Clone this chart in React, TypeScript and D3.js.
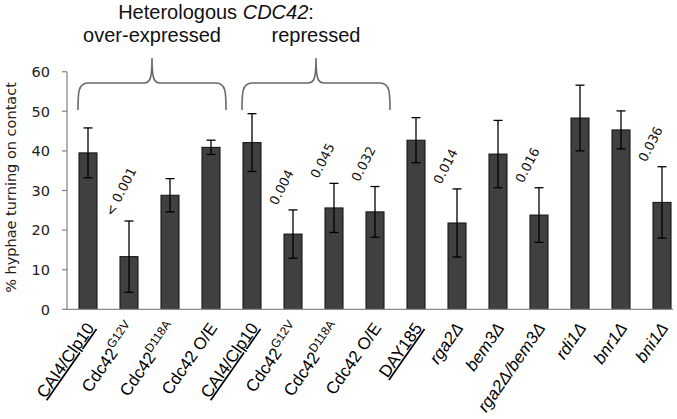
import React from "react";
import * as d3 from "d3";

const categories = [
  "CAI4/Clp10", "Cdc42^G12V", "Cdc42^D118A", "Cdc42 O/E",
  "CAI4/Clp10", "Cdc42^G12V", "Cdc42^D118A", "Cdc42 O/E",
  "DAY185", "rga2Δ", "bem3Δ", "rga2Δ/bem3Δ", "rdi1Δ", "bnr1Δ", "bni1Δ",
];
const values = [39.5, 13.3, 28.8, 40.9, 42.1, 19.0, 25.6, 24.6, 42.7, 21.8, 39.2, 23.8, 48.3, 45.3, 27.0];
const errors = [6.3, 9.0, 4.2, 1.8, 7.3, 6.1, 6.2, 6.4, 5.7, 8.6, 8.5, 6.9, 8.3, 4.8, 9.0];
const pValues = ["", "< 0.001", "", "", "", "0.004", "0.045", "0.032", "", "0.014", "", "0.016", "", "", "0.036"];
const controls = [0, 4, 8];
const yTicks = [0, 10, 20, 30, 40, 50, 60];
const groups = [
  { label: "over-expressed", from: 0, to: 3 },
  { label: "repressed", from: 4, to: 7 },
];

const ARIAL = "Liberation Sans, Arial, sans-serif";
const VERDANA = "DejaVu Sans, Verdana, sans-serif";

export default function App() {
  const idx = categories.map((_, i) => i);
  const x = d3.scaleBand<number>().domain(idx).range([67.5, 682.5]).paddingInner(0.56).paddingOuter(0.28);
  const y = d3.scaleLinear().domain([0, 60]).range([309.3, 71.7]);
  const bw = x.bandwidth();
  const cx = (i: number) => (x(i) as number) + bw / 2;

  const bracePath = (x0: number, x1: number) => {
    const xc = (x0 + x1) / 2;
    const yb = 110, yl = 83, yp = 58;
    return `M${x0},${yb} C${x0},${yl + 10} ${x0},${yl} ${x0 + 10},${yl} L${xc - 8},${yl} C${xc - 2},${yl} ${xc},${yl - 4} ${xc},${yp} C${xc},${yl - 4} ${xc + 2},${yl} ${xc + 8},${yl} L${x1 - 10},${yl} C${x1},${yl} ${x1},${yl + 10} ${x1},${yb}`;
  };

  const renderLabel = (name: string) => {
    if (name.includes("^")) {
      const [base, sup] = name.split("^");
      return [
        <tspan key="b">{base}</tspan>,
        <tspan key="s" fontSize={12} dy={-7}>{sup}</tspan>,
      ];
    }
    return name;
  };

  return (
    <svg width={677} height={419} style={{ position: "absolute", left: 0, top: 0, background: "#fff" }}>
      {/* heading */}
      <text x={216} y={18.5} textAnchor="middle" fontFamily={ARIAL} fontSize={20} fill="#111">
        Heterologous <tspan fontStyle="italic">CDC42</tspan>:
      </text>
      {groups.map((g, k) => {
        const x0 = (x(g.from) as number) - 1;
        const x1 = (x(g.to) as number) + bw + 6;
        return (
          <g key={k}>
            <text x={(x0 + x1) / 2} y={42} textAnchor="middle" fontFamily={ARIAL} fontSize={20} fill="#111">
              {g.label}
            </text>
            <path d={bracePath(x0, x1)} fill="none" stroke="#6a6a6a" strokeWidth={1.6} />
          </g>
        );
      })}

      {/* y axis */}
      <line x1={67} x2={67} y1={y(0)} y2={y(60)} stroke="#8a8a8a" strokeWidth={1.3} />
      {yTicks.map((t) => (
        <g key={t}>
          <line x1={62} x2={67} y1={y(t)} y2={y(t)} stroke="#8a8a8a" strokeWidth={1.3} />
          <text x={50} y={y(t)} dy="0.36em" textAnchor="end" fontFamily={VERDANA} fontSize={14.5} fill="#222">
            {t}
          </text>
        </g>
      ))}
      <text transform={`translate(16,${y(30) - 3}) rotate(-90)`} textAnchor="middle" fontFamily={VERDANA} fontSize={14.5} fill="#222">
        % hyphae turning on contact
      </text>

      {/* bars */}
      {values.map((v, i) => (
        <rect key={i} x={x(i)} y={y(v)} width={bw} height={y(0) - y(v)} fill="#404040" stroke="#111" strokeWidth={1} />
      ))}
      {/* error bars */}
      {values.map((v, i) => {
        const c = cx(i);
        const t = y(v + errors[i]);
        const b = y(v - errors[i]);
        return (
          <g key={i} stroke="#000" strokeWidth={1.3}>
            <line x1={c} x2={c} y1={t} y2={b} />
            <line x1={c - 4.5} x2={c + 4.5} y1={t} y2={t} />
            <line x1={c - 4.5} x2={c + 4.5} y1={b} y2={b} />
          </g>
        );
      })}
      {/* x axis */}
      <line x1={67} x2={673} y1={y(0)} y2={y(0)} stroke="#8a8a8a" strokeWidth={1.3} />

      {/* p values */}
      {pValues.map((p, i) =>
        p ? (
          <text
            key={i}
            transform={`translate(${cx(i) - 16},${y(values[i] + errors[i]) - 4}) rotate(-63)`}
            fontFamily={VERDANA}
            fontSize={13}
            fill="#111"
          >
            {p}
          </text>
        ) : null
      )}

      {/* x labels */}
      {categories.map((name, i) => (
        <text
          key={i}
          transform={`translate(${cx(i) + 7},${328}) rotate(-55)`}
          textAnchor="end"
          fontFamily={ARIAL}
          fontSize={17}
          fill="#000"
          fontStyle={name.endsWith("Δ") ? "italic" : "normal"}
          style={{ textDecoration: controls.includes(i) ? "underline" : "none" }}
        >
          {renderLabel(name)}
        </text>
      ))}
    </svg>
  );
}
